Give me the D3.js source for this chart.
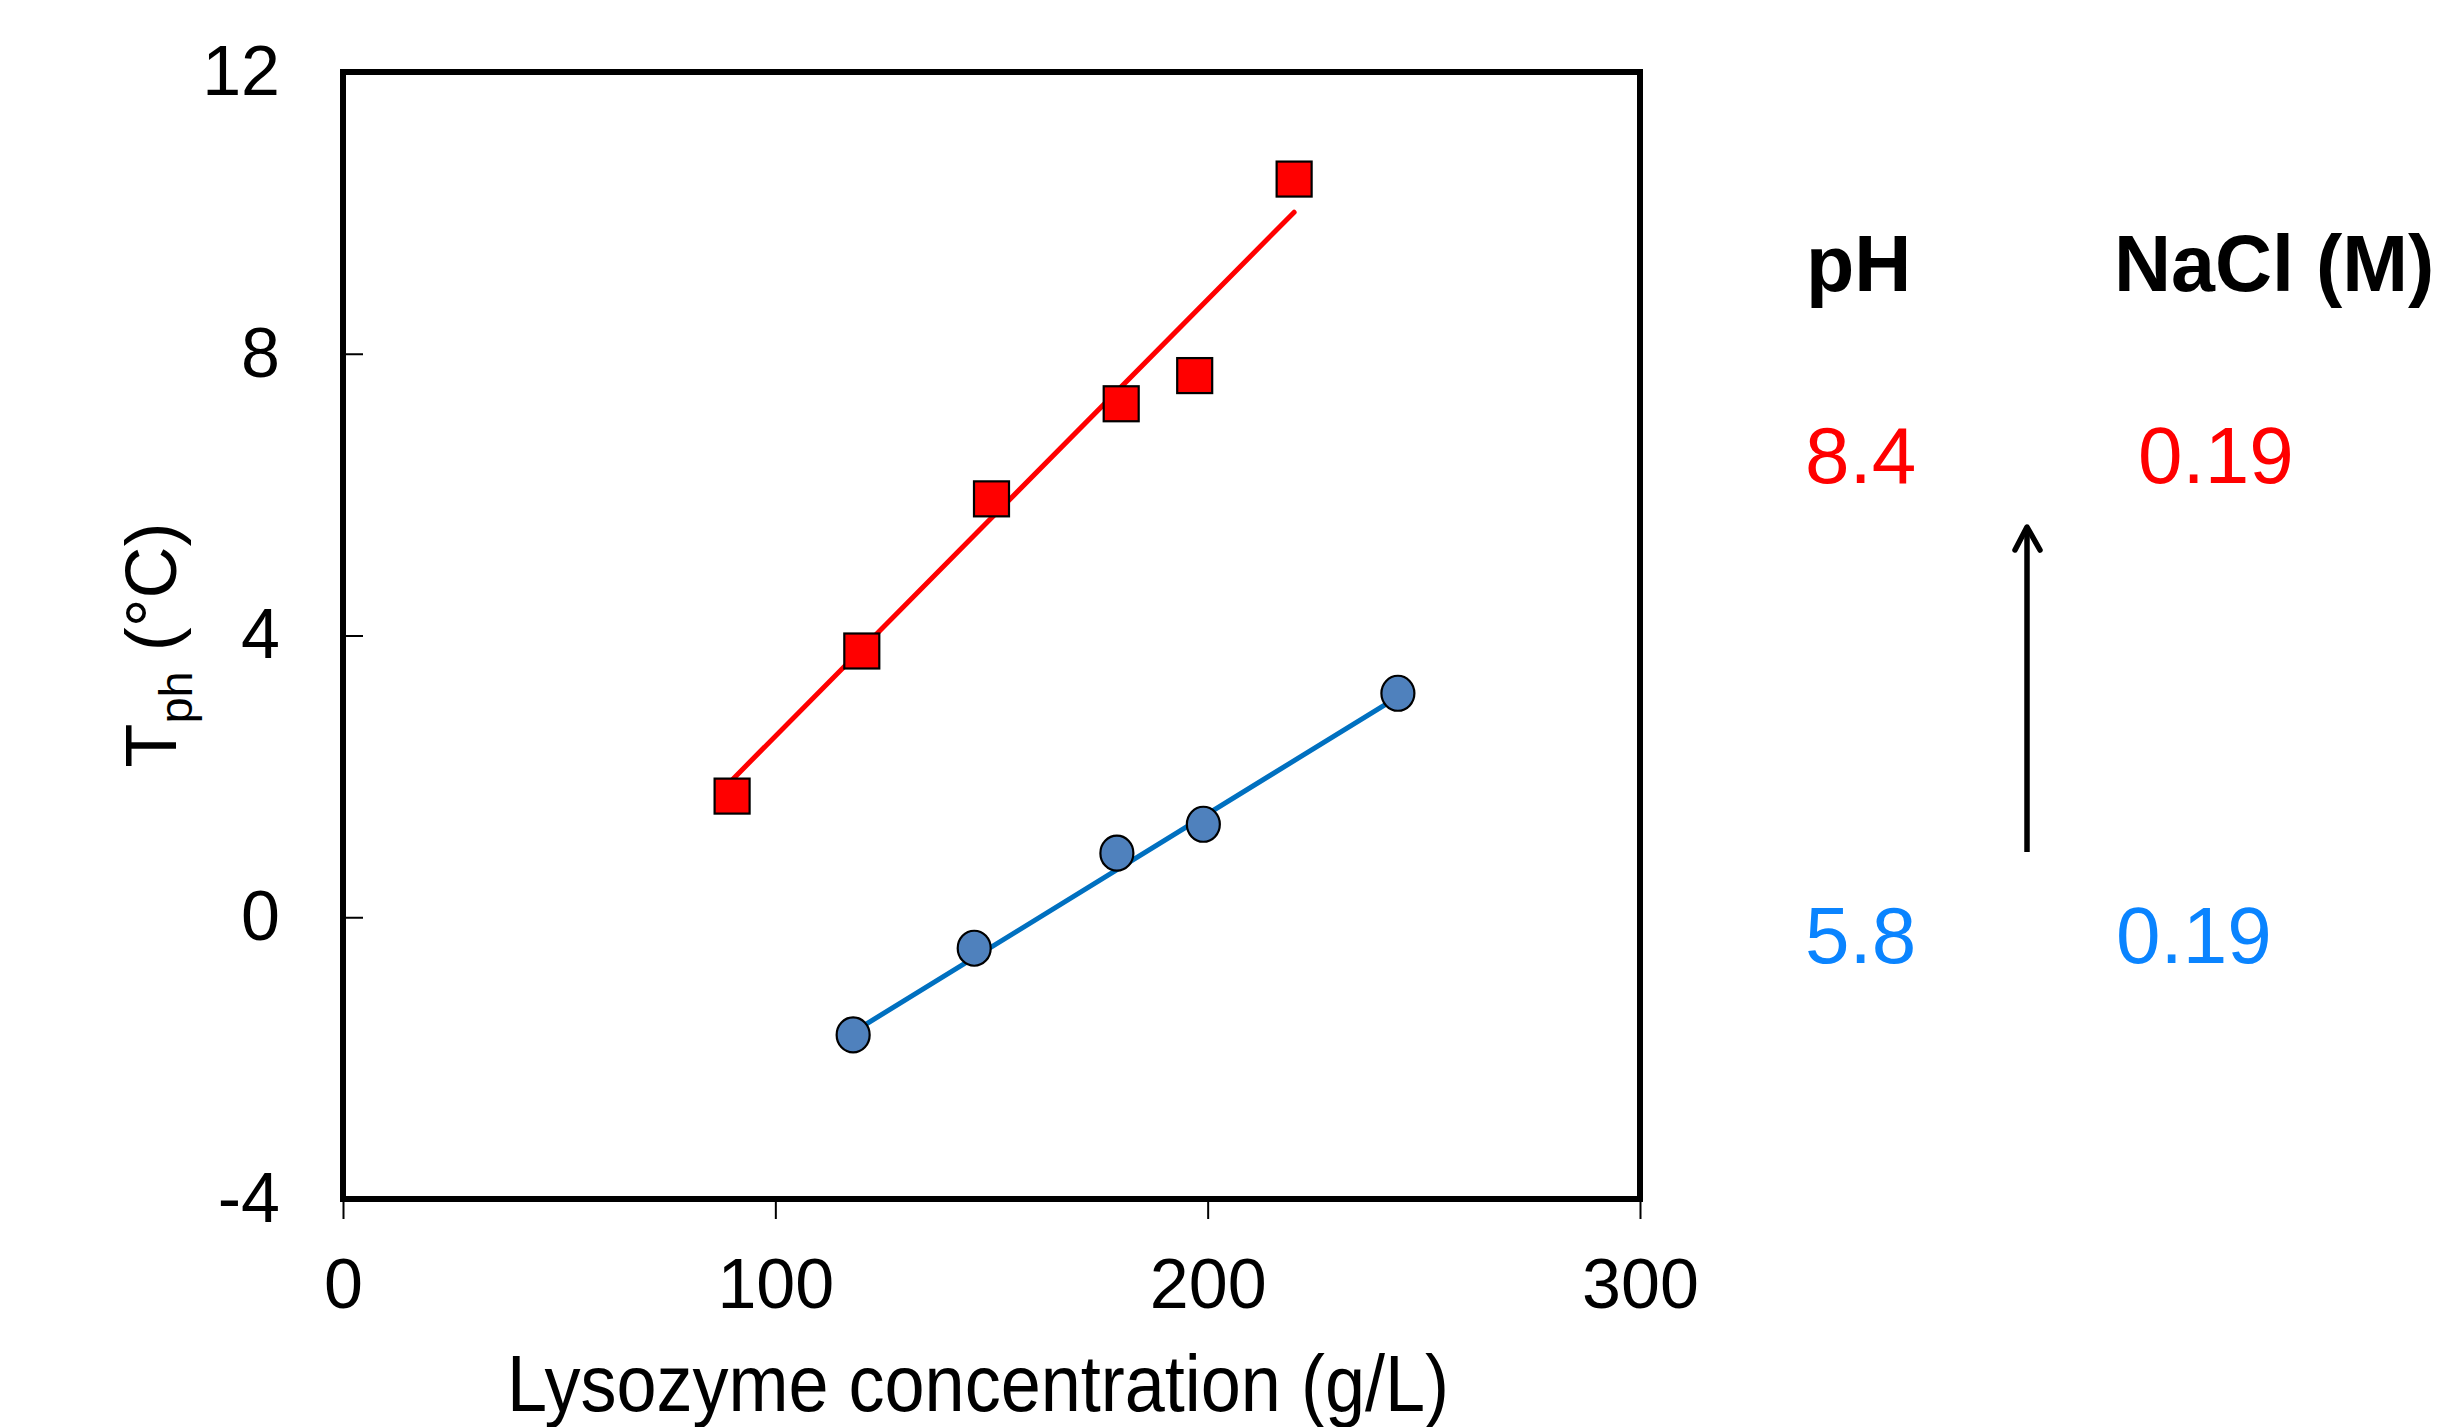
<!DOCTYPE html>
<html>
<head>
<meta charset="utf-8">
<style>
body { margin: 0; background: #fff; }
svg { display: block; font-family: "Liberation Sans", Arial, sans-serif; }
.axis text { font-size: 70px; fill: #000; }
.axis path { display: none; }
.axis line { stroke: #000; stroke-width: 2; }
.frame { fill: none; stroke: #000; stroke-width: 6; }
</style>
</head>
<body>
<svg width="2445" height="1427"></svg>
<script src="https://cdn.jsdelivr.net/npm/d3@7"></script>
<script>

// pH 8.4, 0.19 M NaCl (red squares)
var redX = [90, 120, 150, 180, 197, 220];
var redY = [1.72, 3.78, 5.94, 7.29, 7.69, 10.48];
// pH 5.8, 0.19 M NaCl (blue circles)
var blueX = [118, 146, 179, 199, 244];
var blueY = [-1.67, -0.44, 0.91, 1.32, 3.18];

// trend line ends as drawn
var redFitX = [90, 220];
var redFitY = [1.95, 10.01];
var blueFitX = [118, 244];
var blueFitY = [-1.63, 3.13];

var xTicks = [0, 100, 200, 300];
var yTicks = [-4, 0, 4, 8, 12];

var legendPH = ["8.4", "5.8"];
var legendNaCl = ["0.19", "0.19"];

var svg = d3.select("svg"),
    margin = {top: 72, left: 343},
    width = 1297,
    height = 1127;

var x = d3.scaleLinear().domain([0, 300]).range([0, width]);
var y = d3.scaleLinear().domain([-4, 12]).range([height, 0]);

var g = svg.append("g")
    .attr("transform", "translate(" + margin.left + "," + margin.top + ")");

// axes: x ticks point down and out, y ticks point in
g.append("g")
    .attr("class", "axis axis--x")
    .attr("transform", "translate(0," + height + ")")
    .call(d3.axisBottom(x).tickValues(xTicks).tickSize(20).tickPadding(39).tickSizeOuter(0));

// plain hyphen for negatives, like the original
g.append("g")
    .attr("class", "axis axis--y")
    .call(d3.axisLeft(y).tickValues(yTicks).tickSize(-20).tickPadding(63).tickSizeOuter(0)
      .tickFormat(function(d) { return String(d); }));

// box round the plot
g.append("rect")
    .attr("class", "frame")
    .attr("width", width)
    .attr("height", height);

var line = d3.line()
    .x(function(d) { return x(d[0]); })
    .y(function(d) { return y(d[1]); });

g.append("path")
    .datum(d3.zip(redFitX, redFitY))
    .attr("d", line)
    .attr("fill", "none")
    .attr("stroke", "#ff0000")
    .attr("stroke-width", 5)
    .attr("stroke-linecap", "round");

g.append("path")
    .datum(d3.zip(blueFitX, blueFitY))
    .attr("d", line)
    .attr("fill", "none")
    .attr("stroke", "#0070c0")
    .attr("stroke-width", 5)
    .attr("stroke-linecap", "round");

var sq = 35;
g.selectAll(".sq")
    .data(d3.zip(redX, redY))
  .enter().append("rect")
    .attr("class", "sq")
    .attr("x", function(d) { return x(d[0]) - sq / 2; })
    .attr("y", function(d) { return y(d[1]) - sq / 2; })
    .attr("width", sq)
    .attr("height", sq)
    .attr("fill", "#ff0000")
    .attr("stroke", "#000")
    .attr("stroke-width", 2.2);

g.selectAll(".dot")
    .data(d3.zip(blueX, blueY))
  .enter().append("ellipse")
    .attr("class", "dot")
    .attr("cx", function(d) { return x(d[0]); })
    .attr("cy", function(d) { return y(d[1]); })
    .attr("rx", 16.5)
    .attr("ry", 17.5)
    .attr("fill", "#4f81bd")
    .attr("stroke", "#000")
    .attr("stroke-width", 2.2);

// axis titles
svg.append("text")
    .attr("x", 978)
    .attr("y", 1411)
    .attr("text-anchor", "middle")
    .attr("font-size", 80)
    .attr("textLength", 942)
    .attr("lengthAdjust", "spacingAndGlyphs")
    .text("Lysozyme concentration (g/L)");

var yl = svg.append("text")
    .attr("transform", "translate(176,645) rotate(-90)")
    .attr("text-anchor", "middle")
    .attr("font-size", 72);
yl.append("tspan").text("T");
yl.append("tspan").attr("font-size", 47).attr("dy", 16).text("ph");
yl.append("tspan").attr("dy", -16).text(" (°C)");

// legend on the right
var leg = svg.append("g");
leg.append("text")
    .attr("x", 1806).attr("y", 291)
    .attr("font-size", 79).attr("font-weight", "bold")
    .text("pH");
leg.append("text")
    .attr("x", 2114).attr("y", 291)
    .attr("font-size", 79).attr("font-weight", "bold")
    .text("NaCl (M)");

var legColors = ["#ff0000", "#0a84ff"];
var legY = [483, 963];
var naclX = [2138, 2116];
legendPH.forEach(function(v, i) {
  leg.append("text")
      .attr("x", 1805).attr("y", legY[i])
      .attr("font-size", 80).attr("fill", legColors[i])
      .text(v);
  leg.append("text")
      .attr("x", naclX[i]).attr("y", legY[i])
      .attr("font-size", 80).attr("fill", legColors[i])
      .text(legendNaCl[i]);
});

// arrow from blue row up to red row
leg.append("line")
    .attr("x1", 2027).attr("y1", 852)
    .attr("x2", 2027).attr("y2", 528)
    .attr("stroke", "#000").attr("stroke-width", 5.5);
leg.append("path")
    .attr("d", "M2015,550L2027,527L2040,550")
    .attr("fill", "none")
    .attr("stroke", "#000").attr("stroke-width", 5.5)
    .attr("stroke-linecap", "round").attr("stroke-linejoin", "round");

</script>
</body>
</html>
